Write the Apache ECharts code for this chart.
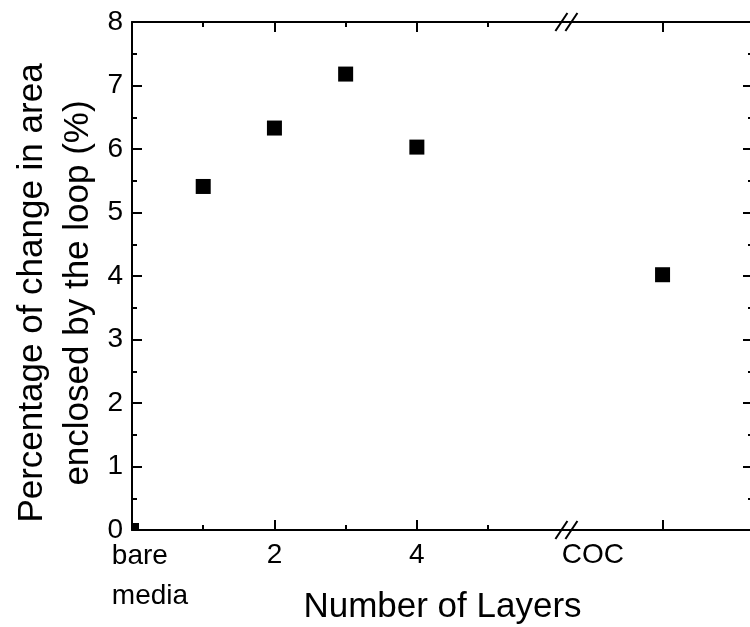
<!DOCTYPE html>
<html lang="en">
<head>
    <meta charset="UTF-8">
    <title>Area change vs layers</title>
    <script type="text/javascript" src="https://cdn.jsdelivr.net/npm/echarts@6/dist/echarts.min.js"></script>
    <style>
        html, body { margin: 0; padding: 0; background: #fff; }
        #main { width: 750px; height: 627px; }
    </style>
</head>
<body>
<div id="main"></div>
<script type="text/javascript">
    // data
    var layerNames = ['bare media', '1', '2', '3', '4', 'COC'];
    var layerX = [0, 1, 2, 3, 4, 7.45];
    var areaChange = [0, 5.41, 6.33, 7.18, 6.03, 4.02];

    // x axis ticks / labels (broken axis, COC after the break)
    var majorTickX = [0, 2, 4, 7.45];
    var minorTickX = [1, 3, 5];
    var labelX = [0, 2, 4, 6.47];
    var labelText = ['{bm|bare}\n{bm|media}', '2', '4', 'COC'];
    var breakX = 6.1;

    var font = '"Liberation Sans", Arial, sans-serif';

    var points = [];
    for (var i = 0; i < layerX.length; i++) {
        var item = { name: layerNames[i], value: [layerX[i], areaChange[i]] };
        if (i == 0) {
            // marker sits on the corner, only the part inside the frame shows
            item.symbolSize = 7;
            item.symbolOffset = [3.5, -3.5];
        }
        points.push(item);
    }

    function xLabel(v) {
        for (var i = 0; i < labelX.length; i++) {
            if (Math.abs(labelX[i] - v) < 1e-6) return labelText[i];
        }
        return '';
    }

    function xAxisDef(pos, ticks, len, withLine, withLabel) {
        return {
            type: 'value', position: pos, min: 0, max: 8.72,
            axisLine: { show: withLine, onZero: false, lineStyle: { color: '#000', width: 2 } },
            axisTick: { show: true, inside: true, length: len, customValues: ticks,
                lineStyle: { color: '#000', width: 2 } },
            axisLabel: withLabel ? {
                customValues: labelX, formatter: xLabel, color: '#000',
                fontSize: 28, fontFamily: font, margin: 6, lineHeight: 38,
                rich: {
                    bm: { align: 'left', fontSize: 28, fontFamily: font, color: '#000',
                          lineHeight: 40, padding: [0, 0, 0, 36] }
                }
            } : { show: false },
            splitLine: { show: false }
        };
    }

    function yAxisDef(pos, withLabel) {
        return {
            type: 'value', position: pos, min: 0, max: 8, interval: 1,
            axisLine: { show: true, onZero: false, lineStyle: { color: '#000', width: 2 } },
            axisTick: { show: true, inside: true, length: 10, lineStyle: { color: '#000', width: 2 } },
            minorTick: { show: true, splitNumber: 2, length: 5, lineStyle: { color: '#000', width: 2 } },
            axisLabel: withLabel ? { color: '#000', fontSize: 28, fontFamily: font, margin: 9 } : { show: false },
            splitLine: { show: false }
        };
    }

    var xMain = xAxisDef('bottom', majorTickX, 10, true, true);
    xMain.name = 'Number of Layers';
    xMain.nameLocation = 'middle';
    xMain.nameGap = 60;
    xMain.nameMoveOverlap = false;
    xMain.nameTextStyle = { color: '#000', fontSize: 35, fontFamily: font };

    var yMain = yAxisDef('left', true);
    yMain.name = 'Percentage of change in area\nenclosed by the loop (%)';
    yMain.nameLocation = 'middle';
    yMain.nameRotate = 90;
    yMain.nameGap = 31;
    yMain.nameMoveOverlap = false;
    // the title sits a little below the middle of the axis
    yMain.nameTextStyle = { color: '#000', fontSize: 35, fontFamily: font, lineHeight: 46,
        padding: [0, 34, 0, 0] };

    var myChart = echarts.init(document.getElementById('main'), null, { renderer: 'canvas' });
    var option = {
        backgroundColor: '#fff',
        animation: false,
        grid: { left: 132, right: -3, top: 22, bottom: 97, outerBoundsMode: 'none' },
        xAxis: [
            xMain,
            xAxisDef('bottom', minorTickX, 5, false, false),
            xAxisDef('top', majorTickX, 10, true, false),
            xAxisDef('top', minorTickX, 5, false, false)
        ],
        yAxis: [yMain, yAxisDef('right', false)],
        series: [{
            type: 'scatter',
            xAxisIndex: 0,
            yAxisIndex: 0,
            symbol: 'rect',
            symbolSize: 15,
            itemStyle: { color: '#000', opacity: 1 },
            data: points
        }]
    };
    myChart.setOption(option);

    // axis break marks "//" on the bottom and top frame lines
    var bx = myChart.convertToPixel({ xAxisIndex: 0 }, breakX);
    var yBottom = myChart.convertToPixel({ yAxisIndex: 0 }, 0);
    var yTop = myChart.convertToPixel({ yAxisIndex: 0 }, 8);
    var marks = [];
    [yBottom, yTop].forEach(function (yy) {
        [-5, 5].forEach(function (dx) {
            marks.push({
                type: 'line',
                shape: { x1: bx + dx - 6, y1: yy + 9, x2: bx + dx + 6, y2: yy - 9 },
                style: { stroke: '#000', lineWidth: 2 },
                z: 100
            });
        });
    });
    myChart.setOption({ graphic: marks });
</script>
</body>
</html>
